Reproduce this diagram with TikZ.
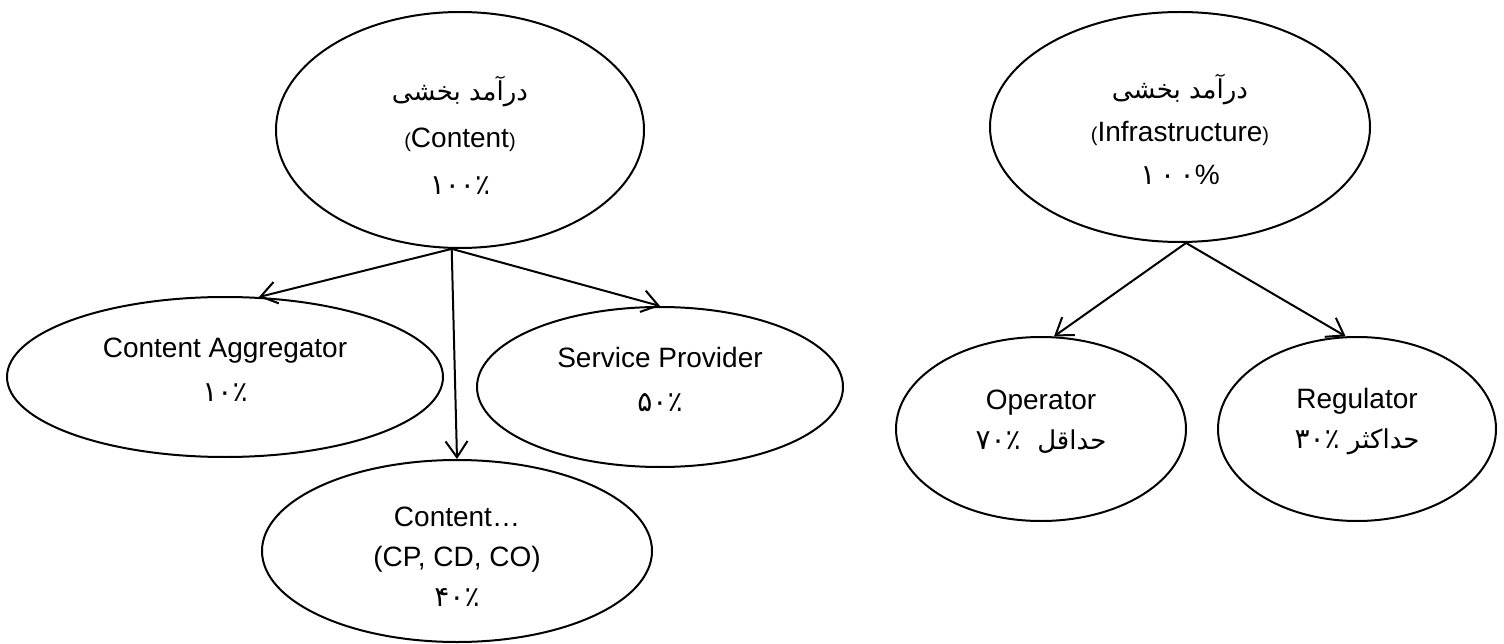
\documentclass[tikz,border=0pt]{standalone}
\usepackage{fontspec}
\setmainfont{Liberation Sans}
\newfontfamily\arabicfont[Script=Arabic]{DejaVu Sans}
\TeXXeTstate=1
\usetikzlibrary{arrows.meta,shapes.geometric}
\newcommand\pers[1]{{\arabicfont\fontsize{26}{40}\selectfont #1}}
\newcommand\persnum[1]{{\arabicfont\fontsize{28}{40}\selectfont #1}}
\newcommand\smallparen[1]{{\fontsize{20}{24}\selectfont #1}}
\begin{document}
\begin{tikzpicture}[x=1pt,y=-1pt,
  oval/.style={draw, line width=2pt, ellipse, inner sep=0pt},
  txt/.style={inner sep=0pt, align=center, font=\fontsize{28}{44}\selectfont},
  wide/.style={font=\fontsize{28}{47}\selectfont},
  tight/.style={font=\fontsize{28}{40}\selectfont},
  arr/.style={line width=2pt, -{Straight Barb[length=16pt,width=22pt,line width=2pt]}},
]
\useasboundingbox (0,0) rectangle (1504,644);

% left group
\node[oval, minimum width=368pt, minimum height=236pt] (top) at (460,130) {};
\node[txt, wide] (topT) at ([yshift=-5pt]top.center)
  {\pers{\beginR درآمد بخشی\endR}\\
   \smallparen{(}Content\smallparen{)}\\
   \persnum{۱۰۰٪}};
\node[oval, minimum width=436pt, minimum height=160pt] (ca) at (225,377) {};
\node[txt] (caT) at ([yshift=7pt]ca.center)
  {Content Aggregator\\ \persnum{۱۰٪}};
\node[oval, minimum width=366pt, minimum height=160pt] (sp) at (660,387) {};
\node[txt] (spT) at ([yshift=8pt]sp.center)
  {Service Provider\\ \persnum{۵۰٪}};
\node[oval, minimum width=390pt, minimum height=182pt] (cont) at (457,551) {};
\node[txt, tight] (contT) at ([yshift=-6pt]cont.center)
  {Content…\\(CP, CD, CO)\\ \persnum{۴۰٪}};

\draw[arr] (top.-94) -- (ca.67);
\draw[arr] (top.-94) -- (cont.north);
\draw[arr] (top.-94) -- (sp.north);

% right group
\node[oval, minimum width=380pt, minimum height=230pt] (infra) at (1180,127) {};
\node[txt, font=\fontsize{28}{43}\selectfont] (infraT) at ([yshift=-2pt]infra.center)
  {\pers{\beginR درآمد بخشی\endR}\\
   \smallparen{(}Infrastructure\smallparen{)}\\
   \persnum{۱\,۰\,۰}\%};
\node[oval, minimum width=290pt, minimum height=184pt] (op) at (1041,429) {};
\node[txt, tight] (opT) at ([yshift=7pt]op.center)
  {Operator\\ \pers{\beginR حداقل\ \ \beginL\persnum{۷۰٪}\endL\endR}};
\node[oval, minimum width=278pt, minimum height=184pt] (reg) at (1357,429) {};
\node[txt, tight] (regT) at ([yshift=7pt]reg.center)
  {Regulator\\ \pers{\beginR حداکثر \beginL\persnum{۳۰٪}\endL\endR}};

\draw[arr] (infra.-87) -- (op.82);
\draw[arr] (infra.-87) -- (reg.97);
\end{tikzpicture}
\end{document}
